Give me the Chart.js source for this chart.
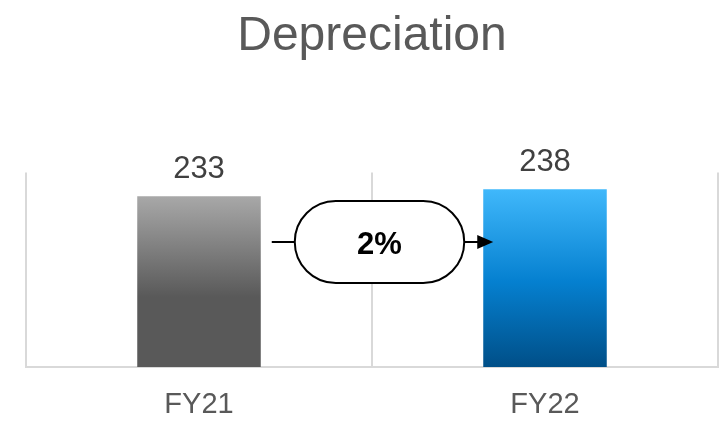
<!DOCTYPE html>
<html>
<head>
<meta charset="utf-8">
<script src="https://cdn.jsdelivr.net/npm/chart.js@4"></script>
<style>
  html, body { margin: 0; padding: 0; background: #ffffff; }
  #wrap { width: 726px; height: 422px; }
</style>
</head>
<body>
<div id="wrap"><canvas id="chartDep" width="726" height="422"></canvas></div>
<script>
const categorias = ["FY21", "FY22"];
const valores = [233, 238];
const cambioTexto = "2%";
const tituloTexto = "Depreciation";

const FONT = "'Liberation Sans', Arial, sans-serif";

function gradienteGris(ctx, top, bottom) {
  const g = ctx.createLinearGradient(0, top, 0, bottom);
  g.addColorStop(0, "#a8a8a8");
  g.addColorStop(0.59, "#595959");
  g.addColorStop(1, "#595959");
  return g;
}

function gradienteAzul(ctx, top, bottom) {
  const g = ctx.createLinearGradient(0, top, 0, bottom);
  g.addColorStop(0, "#40b8fb");
  g.addColorStop(0.52, "#0580d0");
  g.addColorStop(1, "#004f88");
  return g;
}

// etiquetas encima de cada barra
const etiquetasPlugin = {
  id: "etiquetas",
  afterDatasetsDraw(chart) {
    const ctx = chart.ctx;
    const meta = chart.getDatasetMeta(0);
    ctx.save();
    ctx.font = "31px " + FONT;
    ctx.fillStyle = "#404040";
    ctx.textAlign = "center";
    ctx.textBaseline = "bottom";
    meta.data.forEach((bar, i) => {
      ctx.fillText(String(valores[i]), bar.x, bar.y - 11);
    });
    ctx.restore();
  },
};

// pastilla con el % de cambio y flecha
const cambioPlugin = {
  id: "cambio",
  afterDatasetsDraw(chart) {
    const ctx = chart.ctx;
    const meta = chart.getDatasetMeta(0);
    const b1 = meta.data[0];
    const b2 = meta.data[1];
    if (!b1 || !b2) return;

    const yc = chart.scales.y.getPixelForValue(200);
    const xIni = b1.x + b1.width / 2 + 11;
    const xFin = b2.x - b2.width / 2 + 10;
    const pL = xIni + 23;
    const pR = xFin - 29;
    const r = 41;

    ctx.save();
    ctx.strokeStyle = "#000000";
    ctx.lineWidth = 2;

    ctx.beginPath();
    ctx.moveTo(xIni, yc);
    ctx.lineTo(pL, yc);
    ctx.moveTo(pR, yc);
    ctx.lineTo(xFin - 15, yc);
    ctx.stroke();

    ctx.fillStyle = "#000000";
    ctx.beginPath();
    ctx.moveTo(xFin, yc);
    ctx.lineTo(xFin - 16, yc - 7);
    ctx.lineTo(xFin - 16, yc + 7);
    ctx.closePath();
    ctx.fill();

    ctx.beginPath();
    ctx.moveTo(pL + r, yc - r);
    ctx.lineTo(pR - r, yc - r);
    ctx.arc(pR - r, yc, r, -Math.PI / 2, Math.PI / 2);
    ctx.lineTo(pL + r, yc + r);
    ctx.arc(pL + r, yc, r, Math.PI / 2, Math.PI * 1.5);
    ctx.closePath();
    ctx.fillStyle = "#ffffff";
    ctx.fill();
    ctx.stroke();

    ctx.fillStyle = "#000000";
    ctx.font = "bold 31px " + FONT;
    ctx.textAlign = "center";
    ctx.textBaseline = "middle";
    ctx.fillText(cambioTexto, (pL + pR) / 2, yc + 3);
    ctx.restore();
  },
};

const canvas = document.getElementById("chartDep");

new Chart(canvas, {
  type: "bar",
  data: {
    labels: categorias,
    datasets: [
      {
        data: valores,
        backgroundColor: function (context) {
          const chart = context.chart;
          const area = chart.chartArea;
          const escala = chart.scales.y;
          if (!area || !escala) return "#808080";
          const top = escala.getPixelForValue(valores[context.dataIndex]);
          if (!isFinite(top)) return "#808080";
          return context.dataIndex === 0
            ? gradienteGris(chart.ctx, top, area.bottom)
            : gradienteAzul(chart.ctx, top, area.bottom);
        },
        borderWidth: 0,
        barPercentage: 0.357,
        categoryPercentage: 1,
      },
    ],
  },
  options: {
    responsive: false,
    maintainAspectRatio: false,
    animation: false,
    layout: {
      padding: { left: 26, right: 8, top: 0, bottom: 0 },
    },
    plugins: {
      legend: { display: false },
      tooltip: { enabled: false },
      title: {
        display: true,
        text: tituloTexto,
        color: "#595959",
        font: { family: FONT, size: 48, weight: "normal" },
        padding: { top: 8, bottom: 107 },
      },
    },
    scales: {
      x: {
        grid: {
          display: true,
          offset: true,
          color: "#d9d9d9",
          lineWidth: 2,
          drawTicks: false,
        },
        border: { display: true, color: "#d9d9d9", width: 2 },
        ticks: {
          color: "#595959",
          font: { family: FONT, size: 29 },
          padding: 21,
        },
        afterFit: function (scale) {
          scale.height = 55;
        },
      },
      y: {
        display: false,
        min: 110,
        max: 250,
      },
    },
  },
  plugins: [etiquetasPlugin, cambioPlugin],
});
</script>
</body>
</html>
